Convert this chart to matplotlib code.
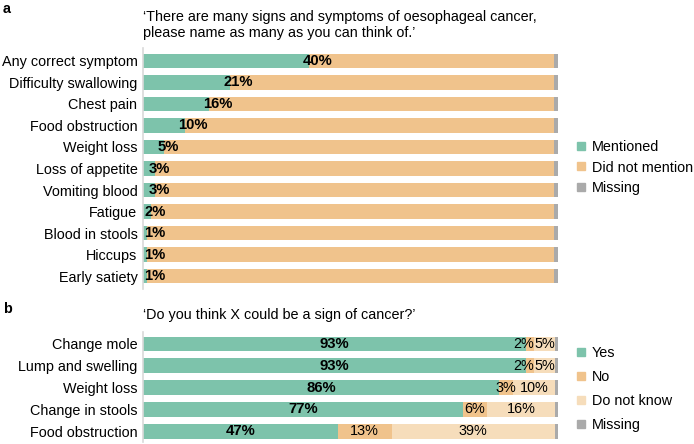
import matplotlib.pyplot as plt
from matplotlib.lines import Line2D

plt.rcParams['font.family'] = ['Liberation Sans', 'DejaVu Sans']

# --- data: panel a (unprompted recall) ---
symptoms_a = ['Any correct symptom', 'Difficulty swallowing', 'Chest pain',
              'Food obstruction', 'Weight loss', 'Loss of appetite',
              'Vomiting blood', 'Fatigue', 'Blood in stools', 'Hiccups',
              'Early satiety']
mentioned = [40, 21, 16, 10, 5, 3, 3, 2, 1, 1, 1]
missing_a = [1.0] * 11
not_mentioned = [100 - m - x for m, x in zip(mentioned, missing_a)]
labels_a = ['40%', '21%', '16%', '10%', '5%', '3%', '3%', '2%', '1%', '1%', '1%']

# --- data: panel b (prompted recognition) ---
symptoms_b = ['Change mole', 'Lump and swelling', 'Weight loss',
              'Change in stools', 'Food obstruction']
yes = [92.2, 92.2, 85.7, 77.0, 46.9]
no = [2.0, 2.0, 3.4, 5.8, 13.0]
dont_know = [5.1, 5.1, 10.2, 16.5, 39.4]
missing_b = [100 - a - b - c for a, b, c in zip(yes, no, dont_know)]
yes_lbl = ['93%', '93%', '86%', '77%', '47%']
no_lbl = ['2%', '2%', '3%', '6%', '13%']
dk_lbl = ['5%', '5%', '10%', '16%', '39%']

GREEN = '#7dc3ab'
ORANGE = '#f0c38c'
TAN = '#f6ddbb'
GREY = '#aaaaaa'
FS = 10.4

W, H = 694, 444
fig = plt.figure(figsize=(W / 100, H / 100), dpi=100)


def axes_px(left, right, top, bottom):
    return fig.add_axes([left / W, 1 - bottom / H, (right - left) / W, (bottom - top) / H])


def style(ax, names):
    ax.set_xlim(0, 100)
    ax.set_yticks(range(len(names)))
    ax.set_yticklabels(names, fontsize=FS)
    ax.tick_params(axis='y', length=0, pad=4)
    ax.set_xticks([])
    for s in ['top', 'right', 'bottom']:
        ax.spines[s].set_visible(False)
    ax.spines['left'].set_color('#d9d9d9')
    ax.spines['left'].set_linewidth(1.2)


BH = 0.68

# panel a
ax1 = axes_px(143, 558, 48, 289)
y1 = range(len(symptoms_a))
ax1.barh(y1, mentioned, height=BH, color=GREEN)
ax1.barh(y1, not_mentioned, left=mentioned, height=BH, color=ORANGE)
left_miss = [m + n for m, n in zip(mentioned, not_mentioned)]
ax1.barh(y1, missing_a, left=left_miss, height=BH, color=GREY)
for i, (v, t) in enumerate(zip(mentioned, labels_a)):
    ax1.text(max(v - 1.6, 0.3), i, t, ha='left', va='center',
             fontsize=FS + 0.3, fontweight='bold')
style(ax1, symptoms_a)
ax1.set_ylim(10.6, -0.6)

# panel b
ax2 = axes_px(143, 558, 332, 442)
y2 = range(len(symptoms_b))
ax2.barh(y2, yes, height=BH, color=GREEN)
ax2.barh(y2, no, left=yes, height=BH, color=ORANGE)
left_dk = [a + b for a, b in zip(yes, no)]
ax2.barh(y2, dont_know, left=left_dk, height=BH, color=TAN)
left_mb = [a + b for a, b in zip(left_dk, dont_know)]
ax2.barh(y2, missing_b, left=left_mb, height=BH, color=GREY)
for i in y2:
    ax2.text(yes[i] / 2, i, yes_lbl[i], ha='center', va='center',
             fontsize=FS + 0.3, fontweight='bold')
    ax2.text(yes[i] + no[i] / 2 - (1.5 if no[i] < 2.5 else 0), i, no_lbl[i],
             ha='center', va='center', fontsize=FS)
    ax2.text(left_dk[i] + dont_know[i] / 2, i, dk_lbl[i], ha='center',
             va='center', fontsize=FS)
style(ax2, symptoms_b)
ax2.set_ylim(4.5, -0.55)

# panel letters and questions
fig.text(3 / W, 1 - 9 / H, 'a', fontsize=FS, fontweight='bold', va='center')
fig.text(143 / W, 1 - 25 / H,
         '\u2018There are many signs and symptoms of oesophageal cancer,\n'
         'please name as many as you can think of.\u2019',
         fontsize=FS, va='center', linespacing=1.25)
fig.text(3 / W, 1 - 309 / H, 'b', fontsize=FS, fontweight='bold', va='center')
fig.text(143 / W, 1 - 315 / H, '\u2018Do you think X could be a sign of cancer?\u2019',
         fontsize=FS, va='center')


def handles(colors, names):
    return [Line2D([], [], marker='s', linestyle='none', markersize=6,
                   markerfacecolor=c, markeredgecolor=c, label=n)
            for c, n in zip(colors, names)]


fig.legend(handles=handles([GREEN, ORANGE, GREY], ['Mentioned', 'Did not mention', 'Missing']),
           loc='upper left', bbox_to_anchor=(575 / W, 1 - 140 / H), frameon=False,
           fontsize=FS, handlelength=0.8, handletextpad=0.35, labelspacing=0.45,
           borderaxespad=0, borderpad=0)
fig.legend(handles=handles([GREEN, ORANGE, TAN, GREY], ['Yes', 'No', 'Do not know', 'Missing']),
           loc='upper left', bbox_to_anchor=(575 / W, 1 - 346 / H), frameon=False,
           fontsize=FS, handlelength=0.8, handletextpad=0.35, labelspacing=0.7,
           borderaxespad=0, borderpad=0)

fig.savefig('out.png', dpi=100)
